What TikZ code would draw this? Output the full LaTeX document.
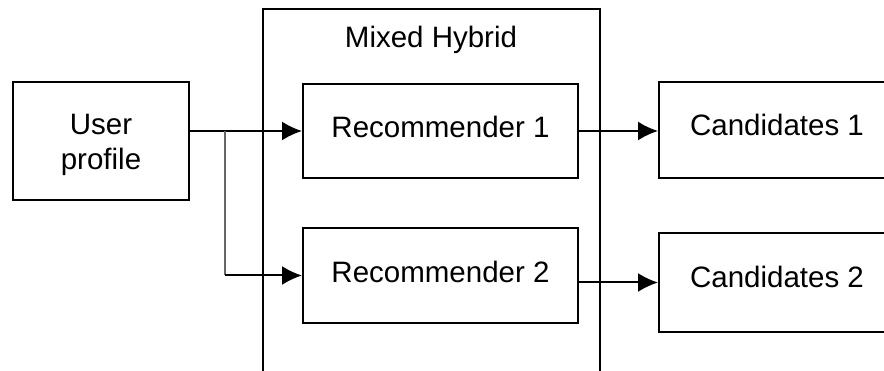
\documentclass[tikz,border=0pt]{standalone}
\usepackage{fontspec}
\setmainfont{Liberation Sans}
\usetikzlibrary{arrows.meta}
\tikzset{
  box/.style={draw=black, line width=2pt, rectangle, inner sep=0pt, align=center,
    font=\fontsize{29.5}{35}\selectfont},
  lbl/.style={inner sep=0pt, align=center, font=\fontsize{29.5}{35}\selectfont},
  conn/.style={line width=2pt, -{Latex[length=20pt,width=19pt]}},
}
\begin{document}
\begin{tikzpicture}[x=1pt,y=-1pt]
\useasboundingbox (0,0) rectangle (884,371);
\clip (0,0) rectangle (884,371);
\node[box, minimum width=337pt, minimum height=366pt] (hyb) at (431.5,192) {};
\node[lbl] (hybt) at (431,40) {Mixed Hybrid};
\node[box, minimum width=176pt, minimum height=118pt] (up) at (101,141) {};
\node[lbl] (upt) at (101,145) {User\\profile};
\node[box, minimum width=275pt, minimum height=94pt, text depth=8pt] (r1) at (440.5,131) {Recommender 1};
\node[box, minimum width=275pt, minimum height=95pt, text depth=7pt] (r2) at (440.5,275.5) {Recommender 2};
\node[box, minimum width=236pt, minimum height=96pt, text depth=10pt] (c1) at (777,130) {Candidates 1};
\node[box, minimum width=236pt, minimum height=99pt, text depth=11pt] (c2) at (777,282.5) {Candidates 2};
\coordinate (br) at (225,131);
\draw[conn] (up.east |- r1.west) -- (r1.west);
\draw[line width=2pt, black!60] (br) -- (br |- r2.west);
\draw[conn] (br |- r2.west) -- (r2.west);
\draw[conn] (r1.east) -- (r1.east -| c1.west);
\draw[conn] (r2.east |- c2.west) -- (c2.west);
\end{tikzpicture}
\end{document}
